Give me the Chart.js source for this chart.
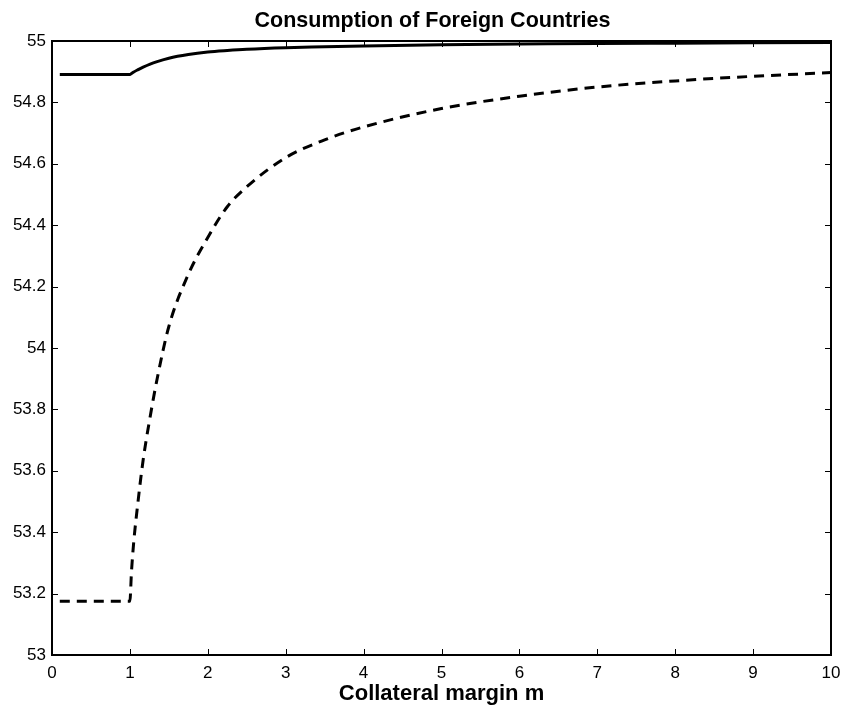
<!DOCTYPE html>
<html>
<head>
<meta charset="utf-8">
<title>Consumption of Foreign Countries</title>
<script src="https://cdn.jsdelivr.net/npm/chart.js@4/dist/chart.umd.min.js"></script>
<style>
    html, body { margin: 0; padding: 0; background: #fff; }
    canvas { display: block; }
</style>
</head>
<body>
<canvas id="chart" width="844" height="711"></canvas>
<script>
'use strict';

// collateral margin m (x axis)
const marginValues = [0.1, 1.0, 1.02, 1.05, 1.1, 1.17, 1.26, 1.35, 1.5, 1.75, 2, 2.25, 2.5, 3, 3.5, 4, 5, 6, 7, 8, 9, 10];

// solid curve
const solidSeries = [54.891, 54.891, 54.894, 54.899, 54.906, 54.915, 54.925, 54.933, 54.944, 54.956, 54.964, 54.969,
    54.973, 54.978, 54.981, 54.984, 54.988, 54.990, 54.992, 54.993, 54.994, 54.995];

// dashed curve
const dashedSeries = [53.175, 53.175, 53.27, 53.37, 53.49, 53.635, 53.776, 53.90, 54.07, 54.24, 54.36, 54.46,
    54.525, 54.62, 54.678, 54.72, 54.78, 54.82, 54.85, 54.87, 54.885, 54.897];

const xTicks = [0, 1, 2, 3, 4, 5, 6, 7, 8, 9, 10];
const yTicks = [53, 53.2, 53.4, 53.6, 53.8, 54, 54.2, 54.4, 54.6, 54.8, 55];

const FONT = "'Liberation Sans', Arial, Helvetica, sans-serif";

function points(ys) {
    return marginValues.map((m, i) => ({ x: m, y: ys[i] }));
}

// box round the plot with inward tick marks on all four sides
const frame = {
    id: 'frame',
    afterLayout(chart) {
        // title sits a little right of the canvas centre in the original
        if (chart.titleBlock) chart.titleBlock.left = 34;
    },
    afterDatasetsDraw(chart) {
        const { ctx, chartArea: a, scales } = chart;
        const len = 6;
        ctx.save();
        ctx.strokeStyle = '#000';
        ctx.lineWidth = 1;
        ctx.beginPath();
        xTicks.forEach((v) => {
            const px = Math.round(scales.x.getPixelForValue(v)) + 0.5;
            ctx.moveTo(px, a.bottom); ctx.lineTo(px, a.bottom - len);
            ctx.moveTo(px, a.top); ctx.lineTo(px, a.top + len);
        });
        yTicks.forEach((v) => {
            const py = Math.round(scales.y.getPixelForValue(v)) + 0.5;
            ctx.moveTo(a.left, py); ctx.lineTo(a.left + len, py);
            ctx.moveTo(a.right, py); ctx.lineTo(a.right - len, py);
        });
        ctx.stroke();
        ctx.lineWidth = 2;
        ctx.strokeRect(a.left, a.top, a.right - a.left, a.bottom - a.top);
        ctx.restore();
    },
};

new Chart(document.getElementById('chart'), {
    type: 'line',
    data: {
        datasets: [
            {
                data: points(solidSeries),
                borderColor: '#000',
                borderWidth: 3,
                pointRadius: 0,
                cubicInterpolationMode: 'monotone',
            },
            {
                data: points(dashedSeries),
                borderColor: '#000',
                borderWidth: 3,
                borderDash: [10, 7],
                pointRadius: 0,
                cubicInterpolationMode: 'monotone',
            },
        ],
    },
    options: {
        responsive: false,
        animation: false,
        devicePixelRatio: 1,
        layout: { padding: { top: 0, right: 13, bottom: 0, left: 0 } },
        plugins: {
            legend: { display: false },
            tooltip: { enabled: false },
            title: {
                display: true,
                text: 'Consumption of Foreign Countries',
                color: '#000',
                font: { family: FONT, size: 21.5, weight: 'bold', lineHeight: 1.2 },
                padding: { top: 8.5, bottom: 6.7 },
            },
        },
        scales: {
            x: {
                type: 'linear',
                min: 0,
                max: 10,
                afterFit(scale) {
                    scale.height = 56;
                    scale.paddingLeft = 0;
                    scale.paddingRight = 0;
                },
                afterBuildTicks(scale) { scale.ticks = xTicks.map((v) => ({ value: v })); },
                grid: { display: false, drawTicks: false },
                border: { display: false },
                ticks: {
                    color: '#000',
                    padding: 8,
                    font: { family: FONT, size: 17 },
                    maxRotation: 0,
                    callback: (v) => String(v),
                },
                title: {
                    display: true,
                    text: 'Collateral margin m',
                    color: '#000',
                    font: { family: FONT, size: 22, weight: 'bold', lineHeight: 1.2 },
                    padding: { top: 0, bottom: 4 },
                },
            },
            y: {
                min: 53,
                max: 55,
                afterFit(scale) {
                    scale.width = 52;
                    scale.paddingTop = 0;
                    scale.paddingBottom = 0;
                },
                afterBuildTicks(scale) { scale.ticks = yTicks.map((v) => ({ value: v })); },
                grid: { display: false, drawTicks: false },
                border: { display: false },
                ticks: {
                    color: '#000',
                    padding: 6,
                    font: { family: FONT, size: 17 },
                    callback: (v) => String(+Number(v).toFixed(1)),
                },
            },
        },
    },
    plugins: [frame],
});
</script>
</body>
</html>
